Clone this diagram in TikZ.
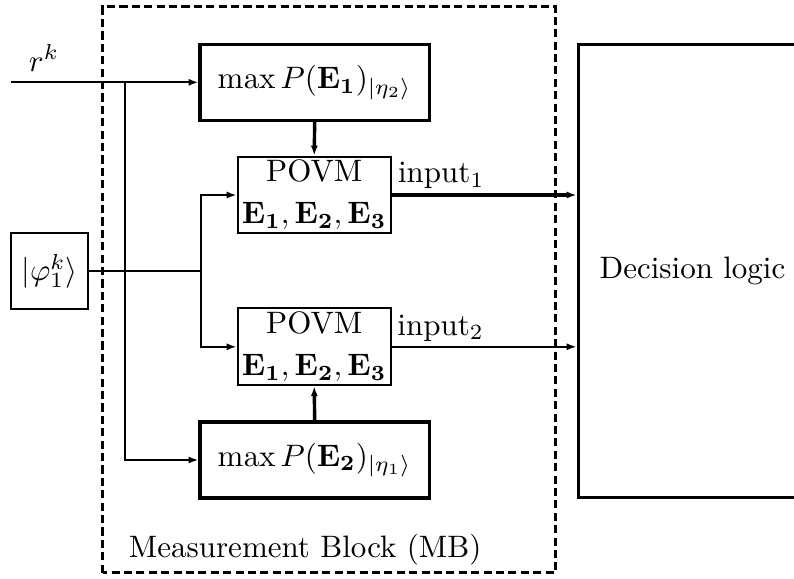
\documentclass[tikz,border=0pt]{standalone}
\usepackage{amsmath}
\usetikzlibrary{arrows.meta}
\usetikzlibrary{calc}

\begin{document}
\begin{tikzpicture}[x=3.226pt, y=3.226pt, >={Latex[length=3.2pt,width=2.3pt]},
  blk/.style={draw, line width=1.1pt, minimum width=73.9pt, minimum height=24.5pt, inner sep=0pt},
  povm/.style={draw, line width=0.65pt, minimum width=49.4pt, minimum height=24.8pt, inner sep=0pt, align=center},
  ket/.style={draw, line width=0.65pt, minimum width=24.8pt, minimum height=24.8pt, inner sep=0pt},
  wire/.style={line width=0.65pt}]
\useasboundingbox (0,0) rectangle (79.4,57.8);
% measurement block
\draw[line width=0.85pt, dash pattern=on 2.6pt off 1.4pt] (10.27,0.53) rectangle (55.57,57.13);
\node[anchor=base west] (mb) at (11.8,2.05) {Measurement Block (MB)};
\node[draw, line width=1.1pt, minimum width=73.7pt, minimum height=146.2pt] (dec) at (69.25,30.71) {Decision logic};
\node[blk] (maxa) at (31.47,49.57) {$\max P(\mathbf{E_1})_{|\eta_2\rangle}$};
\node[blk] (maxb) at (31.47,11.8) {$\max P(\mathbf{E_2})_{|\eta_1\rangle}$};
\node[ket] (phi) at (4.95,30.7) {$|\varphi_1^k\rangle$};
\coordinate (rin) at (1.1,49.57);
\coordinate (ja) at (12.5,49.57);
\coordinate (jb) at (20.1,30.7);
\node (rk) at (4.4,52) {$r^k$};
\draw[wire, ->] (rin) -- (maxa.west);
\draw[wire, ->] (ja) |- (maxb.west);
\draw[wire] (phi.east) -- (jb);
\foreach \n/\y/\i/\lw in {povma/38.3/1/1.1pt, povmb/23.12/2/0.65pt} {
 \node[povm] (\n) at (31.42,\y) {POVM\\[1.5pt]$\mathbf{E_1},\mathbf{E_2},\mathbf{E_3}$};
 \draw[wire, ->] (jb) |- (\n.west);
 \draw[->, line width=\lw] (\n.east) node[above right, inner sep=1.5pt] {input$_\i$} -- (\n.east -| dec.west);
}
\draw[->, line width=1.1pt] (maxa.south) -- (povma.north);
\draw[->, line width=1.1pt] (maxb.north) -- (povmb.south);
\end{tikzpicture}
\end{document}
